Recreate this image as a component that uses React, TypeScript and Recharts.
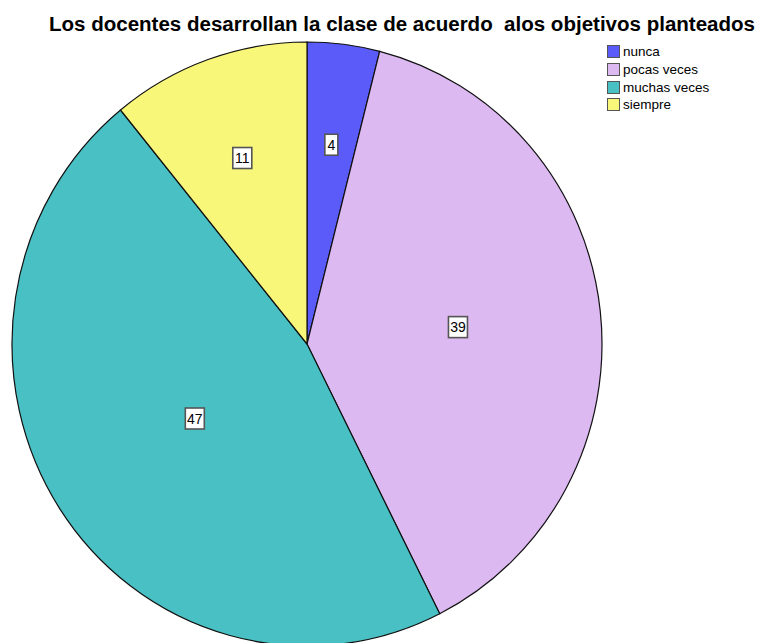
import React from "react";
import { PieChart, Pie, Cell, Sector, Legend } from "recharts";

const categories = ["nunca", "pocas veces", "muchas veces", "siempre"];
const values = [4, 39, 47, 11];
const colors = ["#5b5bf9", "#ddb9f2", "#49c1c4", "#f9f77a"];
const title = "Los docentes desarrollan la clase de acuerdo  alos objetivos planteados";

const data = categories.map((name, i) => ({ name, value: values[i] }));

const CX = 307;
const CY = 344;
const R = 295;
const SY = 302 / 295;
const RAD = Math.PI / 180;

const EllipseSector = (props: any) => {
  const { cx, cy } = props;
  return (
    <g transform={`translate(${cx},${cy}) scale(1,${SY}) translate(${-cx},${-cy})`}>
      <Sector {...props} stroke="#111" strokeWidth={1.2} />
    </g>
  );
};

const renderLabel = (props: any) => {
  const { cx, cy, midAngle, percent, value, outerRadius } = props;
  // label at the centroid of the sector
  const half = percent * Math.PI;
  const r = (2 * outerRadius * Math.sin(half)) / (3 * half);
  const x = cx + r * Math.cos(midAngle * RAD);
  const y = cy - r * Math.sin(midAngle * RAD) * SY;
  const txt = String(value);
  const w = txt.length === 1 ? 13 : 19;
  const h = 21;
  return (
    <g>
      <rect x={x - w / 2} y={y - h / 2} width={w} height={h} fill="#fff" stroke="#555" strokeWidth={1.6} />
      <text x={x} y={y + 5} textAnchor="middle" fontFamily="Liberation Sans, Arial, sans-serif" fontSize={14} fill="#000">
        {txt}
      </text>
    </g>
  );
};

const renderLegend = () => (
  <div style={{ fontFamily: "Liberation Sans, Arial, sans-serif", fontSize: 13.5, color: "#000" }}>
    {categories.map((c, i) => (
      <div key={c} style={{ display: "flex", alignItems: "center", height: 17.7 }}>
        <span
          style={{
            display: "inline-block",
            width: 11,
            height: 11,
            background: colors[i],
            border: "1.5px solid #555",
            marginRight: 3,
          }}
        />
        <span>{c}</span>
      </div>
    ))}
  </div>
);

export default function App() {
  return (
    <div style={{ position: "absolute", left: 0, top: 0, width: 759, height: 643, background: "#fff" }}>
      <svg width={759} height={40} style={{ position: "absolute", left: 0, top: 0 }}>
        <text
          x={49}
          y={31}
          fontFamily="Liberation Sans, Arial, sans-serif"
          fontWeight="bold"
          fontSize={20}
          textLength={706}
          lengthAdjust="spacingAndGlyphs"
          fill="#000"
          style={{ whiteSpace: "pre" }}
          xmlSpace="preserve"
        >
          {title}
        </text>
      </svg>
      <div style={{ position: "absolute", left: 0, top: 0 }}>
        <PieChart width={759} height={643} margin={{ top: 0, right: 0, bottom: 0, left: 0 }}>
          <Pie
            data={data}
            dataKey="value"
            nameKey="name"
            cx={CX}
            cy={CY}
            outerRadius={R}
            startAngle={90}
            endAngle={-270}
            isAnimationActive={false}
            label={renderLabel}
            labelLine={false}
            shape={EllipseSector}
          >
            {data.map((d, i) => (
              <Cell key={d.name} fill={colors[i]} />
            ))}
          </Pie>
          <Legend
            content={renderLegend}
            layout="vertical"
            wrapperStyle={{ position: "absolute", left: 607, top: 43, width: 150 }}
          />
        </PieChart>
      </div>
    </div>
  );
}
